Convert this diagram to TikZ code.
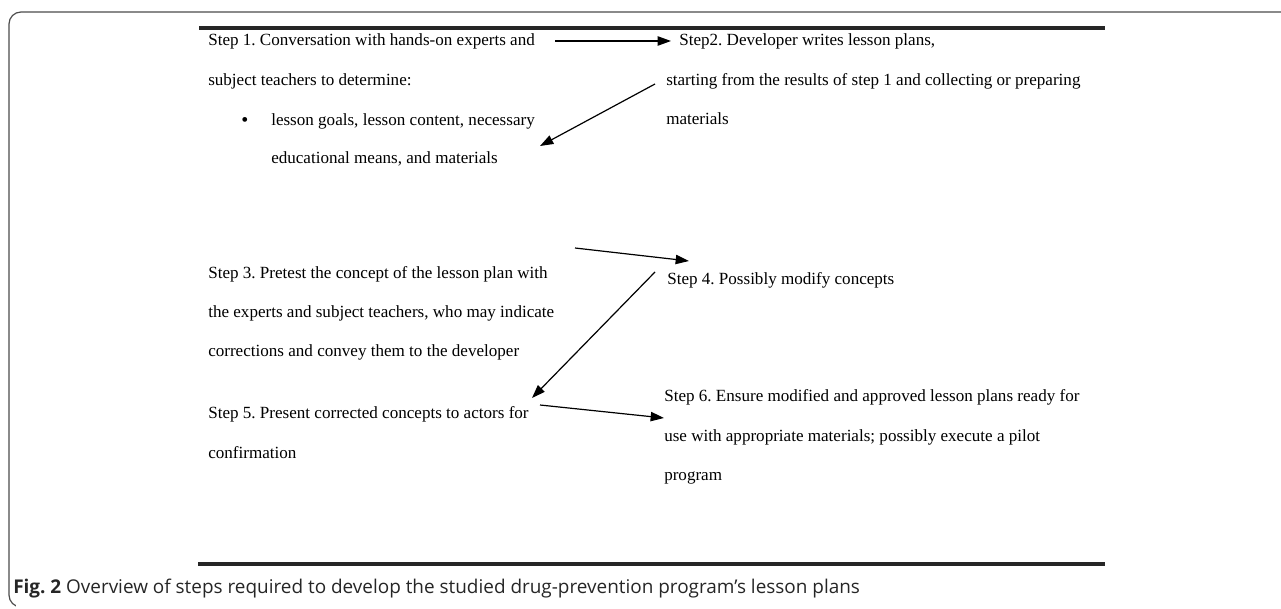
\documentclass[tikz,border=0pt]{standalone}
\usepackage{fontspec}
\setmainfont{Liberation Serif}
\newfontfamily\capfont{Open Sans}
\usetikzlibrary{arrows.meta}
\frenchspacing
\begin{document}
\begin{tikzpicture}[x=0.75pt,y=-0.75pt,
  txt/.style={anchor=base west,inner sep=0pt,font=\fontsize{12.8}{15}\selectfont},
  conn/.style={-{Triangle[length=10pt,width=7pt]},line width=0.9pt,black},
  rule/.style={line width=3pt,black!85},
  frame/.style={line width=0.9pt,black!70,rounded corners=9pt}]
\useasboundingbox (0,0) rectangle (1281,609);
% frame
\draw[frame] (1290,12) -- (9,12) -- (9,607) -- (30,607);
\fill[white] (16,602) rectangle (40,612);
% rules
\draw[rule] (199,28) -- (1105,28);
\draw[rule] (198,564) -- (1105,564);
% step 1
\node[txt] (s1a) at (208,46) {Step 1. Conversation with hands-on experts and};
\node[txt] (s1b) at (208,86) {subject teachers to determine:};
\node[txt,font=\fontsize{15}{15}\selectfont] (s1c) at (241,127) {•};
\node[txt] (s1d) at (271,126) {lesson goals, lesson content, necessary};
\node[txt] (s1e) at (271,164) {educational means, and materials};
% step 2
\node[txt] (s2a) at (679,46) {Step2. Developer writes lesson plans,};
\node[txt] (s2b) at (666,86) {starting from the results of step 1 and collecting or preparing};
\node[txt] (s2c) at (666,125) {materials};
% step 3
\node[txt] (s3a) at (208,279) {Step 3. Pretest the concept of the lesson plan with};
\node[txt] (s3b) at (208,318) {the experts and subject teachers, who may indicate};
\node[txt] (s3c) at (208,357) {corrections and convey them to the developer};
% step 4
\node[txt] (s4) at (667,285) {Step 4. Possibly modify concepts};
% step 5
\node[txt] (s5a) at (208,418) {Step 5. Present corrected concepts to actors for};
\node[txt] (s5b) at (208,458) {confirmation};
% step 6
\node[txt] (s6a) at (664,402) {Step 6. Ensure modified and approved lesson plans ready for};
\node[txt] (s6b) at (664,441) {use with appropriate materials; possibly execute a pilot};
\node[txt] (s6c) at (664,480) {program};
% caption
\node[anchor=base west,inner sep=0pt,font=\capfont\fontsize{14.2}{16}\selectfont,text=black!85] (cap) at (13,593) {\textbf{Fig. 2} Overview of steps required to develop the studied drug-prevention program’s lesson plans};
% arrow end points
\coordinate (a1s) at (555,41);
\coordinate (a1e) at (671,41);
\coordinate (a2s) at (655,84);
\coordinate (a2e) at (540,146);
\coordinate (a3s) at (575,248);
\coordinate (a3e) at (689,261);
\coordinate (a4s) at (655,272);
\coordinate (a4e) at (532,398);
\coordinate (a5s) at (540,405);
\coordinate (a5e) at (664,418);
\draw[conn] (a1s) -- (a1e);
\draw[conn] (a2s) -- (a2e);
\draw[conn] (a3s) -- (a3e);
\draw[conn] (a4s) -- (a4e);
\draw[conn] (a5s) -- (a5e);
\end{tikzpicture}
\end{document}
